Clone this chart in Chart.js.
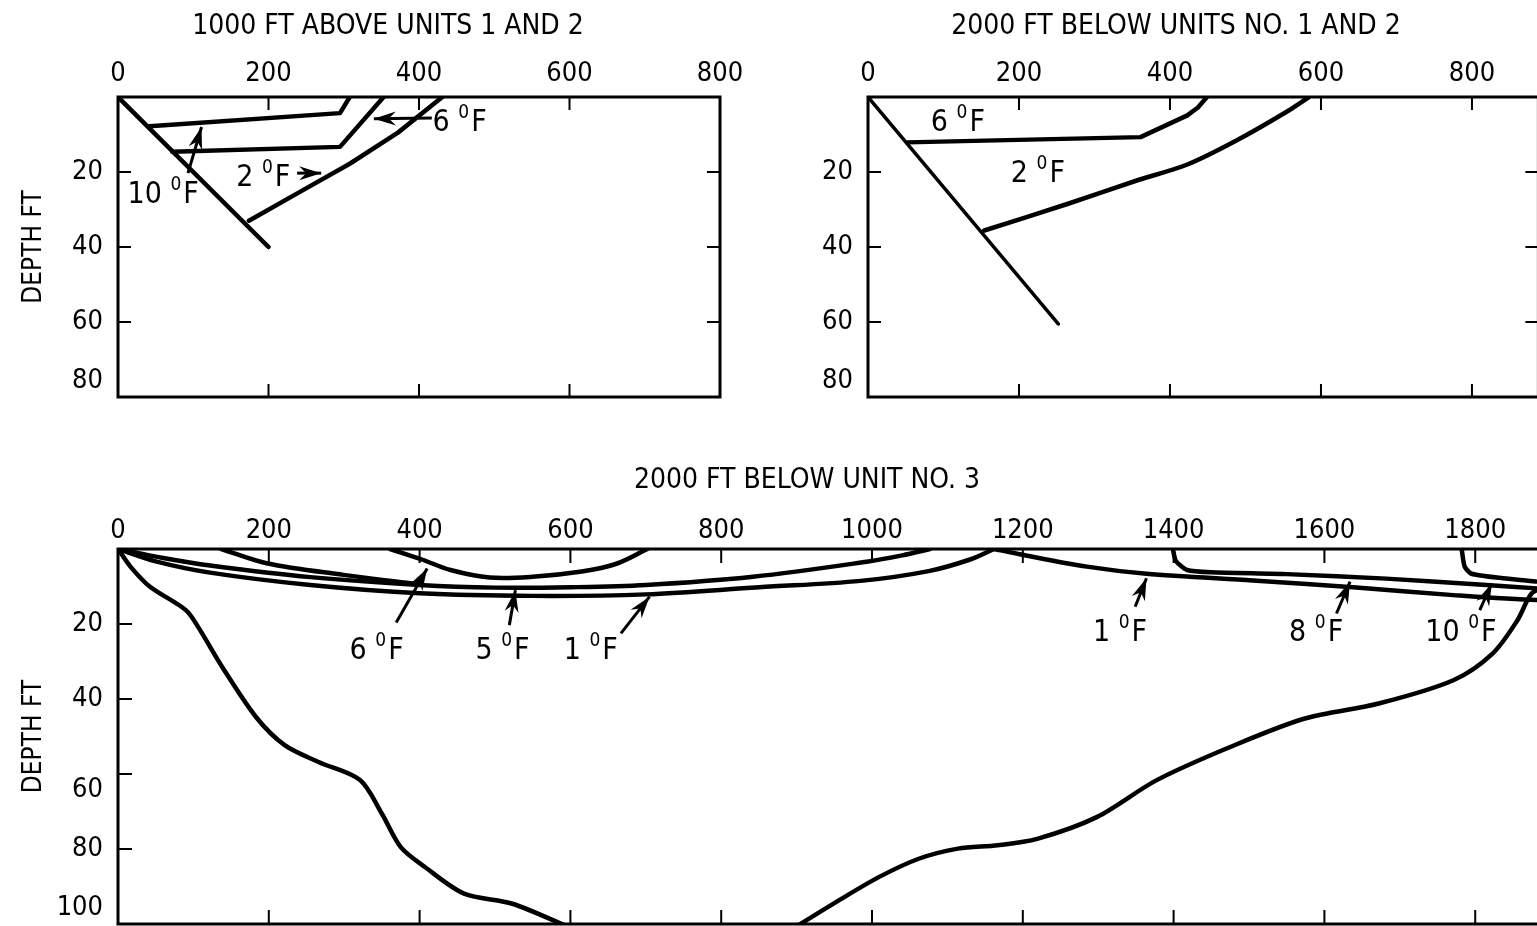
<!DOCTYPE html>
<html>
<head>
<meta charset="utf-8">
<title>Temperature rise contours</title>
<script src="https://cdn.jsdelivr.net/npm/chart.js@4.4.1/dist/chart.umd.min.js"></script>
<style>
    html, body { margin: 0; padding: 0; background: #fff; overflow: hidden; width: 1537px; height: 926px; }
    .panel { position: absolute; }
</style>
</head>
<body>
<div class="panel" style="left:0;top:440px;width:1614px;height:544px"><canvas id="unit3Chart"></canvas></div>
<div class="panel" style="left:0;top:0;width:776px;height:457px"><canvas id="aboveChart"></canvas></div>
<div class="panel" style="left:760px;top:0;width:832px;height:457px"><canvas id="below12Chart"></canvas></div>
<script>
const INK = '#000';
const FONT = '"DejaVu Sans Condensed", "Liberation Sans Narrow", "Arial Narrow", sans-serif';

// Tick labels
const topXTicks = [0, 200, 400, 600, 800];
const topYTicks = [20, 40, 60, 80];
const unit3XTicks = [0, 200, 400, 600, 800, 1000, 1200, 1400, 1600, 1800];
const unit3YTicks = [20, 40, 60, 80, 100];

// 1000 FT above units 1 and 2  (distance ft, depth ft)
const aboveShore = [[0, 0], [200, 40]];
const above2F = [[174, 33], [240, 25.5], [308, 17.8], [372, 9.5], [431, 0]];
const above6F = [[353, 0], [295, 13.3], [72, 14.6]];
const above10F = [[308, 0], [295, 4.3], [42, 7.8]];

// 2000 FT below units no. 1 and 2
const below12Shore = [[0, 0], [252, 60.5]];
const below12_6F = [[449, 0], [437, 2.8], [423, 4.9], [361, 10.7], [52, 12.1]];
const below12_2F = [[584, 0], [554, 4], [488, 11.6], [423, 18], [357, 22.2], [266, 28.4], [154, 35.6]];

// 2000 FT below unit no. 3
const unit3Outer = [[0, 0], [16.5, 4.7], [42, 10], [90, 16.3], [106, 20.7], [138, 31.4], [183, 44.8],
    [221, 52.3], [266, 56.8], [321, 61.6], [350, 70.6], [375, 79.5], [407, 84.8], [459, 91.9],
    [523, 94.6], [600, 101]];
const unit3OuterEast = [[897, 101], [956, 93.7], [1009, 87.5], [1062, 82.6], [1114, 79.9], [1167, 79],
    [1219, 77.3], [1298, 71.5], [1377, 61.7], [1475, 52.8], [1574, 45.2], [1672, 41.2], [1771, 35],
    [1823, 27.9], [1856, 19], [1875, 11.8], [1895, 10]];
const unit3_6F = [[361, 0], [403, 2.8], [441, 5.6], [493, 7.6], [550, 7.4], [615, 6], [660, 4], [702, 0]];
const unit3Inner = [[137, 0], [197, 3.8], [299, 6.9], [400, 9.4]];
const unit3_5F = [[0, 0], [60, 2.4], [122, 4.4], [255, 7.5], [400, 9.6], [500, 10.3], [600, 10.2],
    [700, 9.6], [842, 7.4], [993, 3.4], [1040, 1.7], [1077, 0]];
const unit3_1F = [[0, 0], [50, 3.3], [122, 6.3], [255, 9.6], [400, 11.8], [550, 12.5], [700, 12.1],
    [850, 10.2], [985, 8.5], [1075, 5.9], [1130, 2.8], [1162, 0]];
const unit3_1FEast = [[1162, 0], [1196, 1.4], [1285, 4.7], [1364, 6.6], [1505, 8.4], [1638, 10.2],
    [1771, 12.3], [1882, 13.6], [1895, 13]];
const unit3_8F = [[1399, 0], [1403, 3.2], [1418, 5.6], [1450, 6.2], [1550, 6.7], [1682, 7.9],
    [1815, 9.6], [1882, 10.5], [1895, 10.6]];
const unit3_10F = [[1782, 0], [1786, 4.7], [1795, 6.6], [1837, 7.8], [1882, 8.7], [1895, 9]];

// Labels (centre of text) and their pointer arrows
const aboveNotes = [
    { deg: '10', at: [60, 25.4], from: [93, 20.3], to: [111, 8] },
    { deg: '2', at: [193, 20.9], from: [238, 20.3], to: [270, 20.3] },
    { deg: '6', at: [454, 6.2], from: [417, 5.6], to: [340, 5.8] }
];
const below12Notes = [
    { deg: '6', at: [119, 6.0] },
    { deg: '2', at: [225, 19.8] }
];
const unit3Notes = [
    { deg: '6', at: [343, 26.4], from: [369, 19.6], to: [410, 5.2] },
    { deg: '5', at: [510, 26.4], from: [519, 20.3], to: [527, 11] },
    { deg: '1', at: [627, 26.4], from: [667, 22.5], to: [705, 12.7] },
    { deg: '1', at: [1329, 21.6], from: [1349, 15.4], to: [1364, 7.8] },
    { deg: '8', at: [1589, 21.6], from: [1616, 17.2], to: [1634, 8.7] },
    { deg: '10', at: [1781, 21.6], from: [1806, 16.3], to: [1822, 9.2] }
];

function curve(points, width, tension) {
    return {
        data: points.map(([x, y]) => ({ x, y })),
        showLine: true,
        borderColor: INK,
        borderWidth: width,
        tension: tension,
        pointRadius: 0,
        fill: false,
        borderJoinStyle: 'round',
        borderCapStyle: 'round'
    };
}

function arrowSets(notes) {
    return notes.filter(n => n.from).map(n => ({
        ...curve([n.from, n.to], 3, 0),
        borderCapStyle: 'butt',
        arrowHead: true
    }));
}

// Frame round the plot with short inward tick marks
const frameTicks = {
    id: 'frameTicks',
    afterDraw(chart, args, opts) {
        const { ctx, chartArea: a, scales: { x, y } } = chart;
        const len = opts.tickLen || 13;
        ctx.save();
        ctx.strokeStyle = INK;
        ctx.lineWidth = 3;
        ctx.strokeRect(a.left, a.top, a.right - a.left, a.bottom - a.top);
        ctx.lineWidth = 2;
        ctx.beginPath();
        x.ticks.forEach(t => {
            if (t.value <= x.min || t.value >= x.max) return;
            const px = x.getPixelForValue(t.value);
            ctx.moveTo(px, a.top); ctx.lineTo(px, a.top + len);
            ctx.moveTo(px, a.bottom); ctx.lineTo(px, a.bottom - len);
        });
        y.ticks.forEach(t => {
            if (t.value <= y.min || t.value >= y.max) return;
            const py = y.getPixelForValue(t.value);
            ctx.moveTo(a.left, py); ctx.lineTo(a.left + len, py);
            ctx.moveTo(a.right, py); ctx.lineTo(a.right - len, py);
        });
        ctx.stroke();
        ctx.restore();
    }
};

// Filled arrow heads at the end of pointer lines
const arrowHeads = {
    id: 'arrowHeads',
    afterDatasetsDraw(chart) {
        const ctx = chart.ctx;
        chart.data.datasets.forEach((ds, i) => {
            if (!ds.arrowHead) return;
            const pts = chart.getDatasetMeta(i).data;
            const tip = pts[pts.length - 1];
            const tail = pts[pts.length - 2];
            const ang = Math.atan2(tip.y - tail.y, tip.x - tail.x);
            ctx.save();
            ctx.translate(tip.x, tip.y);
            ctx.rotate(ang);
            ctx.beginPath();
            ctx.moveTo(0, 0);
            ctx.lineTo(-22, -7);
            ctx.lineTo(-15, 0);
            ctx.lineTo(-22, 7);
            ctx.closePath();
            ctx.fillStyle = INK;
            ctx.fill();
            ctx.restore();
        });
    }
};

// "N oF" labels with raised degree mark
const degreeNotes = {
    id: 'degreeNotes',
    afterDatasetsDraw(chart, args, opts) {
        const { ctx, scales: { x, y } } = chart;
        const big = '30px ' + FONT;
        const small = '19px ' + FONT;
        ctx.save();
        ctx.fillStyle = INK;
        ctx.textBaseline = 'alphabetic';
        ctx.textAlign = 'left';
        (opts.items || []).forEach(n => {
            ctx.font = big;
            const w1 = ctx.measureText(n.deg + ' ').width;
            const w3 = ctx.measureText('F').width;
            ctx.font = small;
            const w2 = ctx.measureText('0').width + 2;
            let px = x.getPixelForValue(n.at[0]) - (w1 + w2 + w3) / 2;
            const base = y.getPixelForValue(n.at[1]) + 11;
            ctx.font = big;
            ctx.fillText(n.deg + ' ', px, base);
            px += w1;
            ctx.font = small;
            ctx.fillText('0', px, base - 13);
            px += w2;
            ctx.font = big;
            ctx.fillText('F', px, base);
        });
        ctx.restore();
    }
};

function makeChart(canvasId, cfg) {
    const ctx = document.getElementById(canvasId).getContext('2d');
    return new Chart(ctx, {
        type: 'scatter',
        data: { datasets: cfg.datasets.concat(arrowSets(cfg.notes)) },
        options: {
            responsive: true,
            maintainAspectRatio: false,
            animation: false,
            events: [],
            layout: { padding: { left: 0, right: 0, top: 0, bottom: 60 } },
            plugins: {
                legend: { display: false },
                tooltip: { enabled: false },
                title: {
                    display: true,
                    text: cfg.title,
                    color: INK,
                    font: { family: FONT, size: 28, weight: 'normal' },
                    padding: { top: cfg.titleTop, bottom: 0 }
                },
                frameTicks: { tickLen: cfg.tickLen },
                degreeNotes: { items: cfg.notes }
            },
            scales: {
                x: {
                    type: 'linear',
                    position: 'top',
                    min: 0,
                    max: cfg.xMax,
                    afterBuildTicks: s => { s.ticks = cfg.xTicks.map(v => ({ value: v })); },
                    afterFit: s => { s.height = cfg.xAxisHeight; },
                    grid: { display: false, drawTicks: false },
                    border: { display: false },
                    ticks: {
                        color: INK,
                        padding: cfg.xPad,
                        autoSkip: false,
                        maxRotation: 0,
                        font: { family: FONT, size: 27 },
                        callback: v => String(v)
                    }
                },
                y: {
                    type: 'linear',
                    position: 'left',
                    reverse: true,
                    min: 0,
                    max: cfg.yMax,
                    afterBuildTicks: s => { s.ticks = cfg.yTicks.map(v => ({ value: v })); },
                    afterFit: s => { s.width = cfg.leftWidth; },
                    grid: { display: false, drawTicks: false },
                    border: { display: false },
                    title: {
                        display: cfg.yTitle,
                        text: 'DEPTH FT',
                        color: INK,
                        font: { family: FONT, size: 26 },
                        padding: { top: 19, bottom: 0 }
                    },
                    ticks: {
                        color: INK,
                        padding: 15,
                        autoSkip: false,
                        font: { family: FONT, size: 27 },
                        callback: v => cfg.yLabel(v)
                    }
                },
                yRight: {
                    axis: 'y',
                    type: 'linear',
                    position: 'right',
                    display: true,
                    reverse: true,
                    min: 0,
                    max: cfg.yMax,
                    afterFit: s => { s.width = cfg.rightWidth; },
                    grid: { display: false, drawTicks: false },
                    border: { display: false },
                    ticks: { display: false }
                }
            }
        },
        plugins: [frameTicks, arrowHeads, degreeNotes]
    });
}

document.addEventListener('DOMContentLoaded', function () {
    makeChart('aboveChart', {
        title: '1000 FT ABOVE UNITS 1 AND 2',
        titleTop: 10.2,
        xAxisHeight: 53.2,
        xPad: 7,
        xMax: 800,
        xTicks: topXTicks,
        yMax: 80,
        yTicks: topYTicks,
        leftWidth: 118,
        rightWidth: 56,
        yTitle: true,
        tickLen: 13,
        yLabel: v => (v === 80 ? ['80', ''] : String(v)),
        notes: aboveNotes,
        datasets: [
            curve(aboveShore, 4.5, 0),
            curve(above2F, 4.5, 0),
            curve(above6F, 4.5, 0),
            curve(above10F, 4.5, 0)
        ]
    });

    makeChart('below12Chart', {
        title: '2000 FT BELOW UNITS NO. 1 AND 2',
        titleTop: 10.2,
        xAxisHeight: 53.2,
        xPad: 7,
        xMax: 888,
        xTicks: topXTicks,
        yMax: 80,
        yTicks: topYTicks,
        leftWidth: 108,
        rightWidth: 53.6,
        yTitle: false,
        tickLen: 13,
        yLabel: v => (v === 80 ? ['80', ''] : String(v)),
        notes: below12Notes,
        datasets: [
            curve(below12Shore, 3.5, 0),
            curve(below12_6F, 4.5, 0),
            curve(below12_2F, 4.5, 0.3)
        ]
    });

    makeChart('unit3Chart', {
        title: '2000 FT BELOW UNIT NO. 3',
        titleTop: 23.8,
        xAxisHeight: 51.6,
        xPad: 2,
        xMax: 1920,
        xTicks: unit3XTicks,
        yMax: 100,
        yTicks: unit3YTicks,
        leftWidth: 118,
        rightWidth: 48.3,
        yTitle: true,
        tickLen: 14,
        yLabel: v => (v === 100 ? ['100', ''] : v === 60 ? ['', '60'] : String(v)),
        notes: unit3Notes,
        datasets: [
            curve(unit3Outer, 4.5, 0.3),
            curve(unit3OuterEast, 4.5, 0.3),
            curve(unit3_6F, 4.5, 0.35),
            curve(unit3Inner, 4.5, 0.35),
            curve(unit3_5F, 4.5, 0.35),
            curve(unit3_1F, 4.5, 0.35),
            curve(unit3_1FEast, 4.5, 0.3),
            curve(unit3_8F, 4.5, 0.2),
            curve(unit3_10F, 4.5, 0.2)
        ]
    });
});
</script>
</body>
</html>
